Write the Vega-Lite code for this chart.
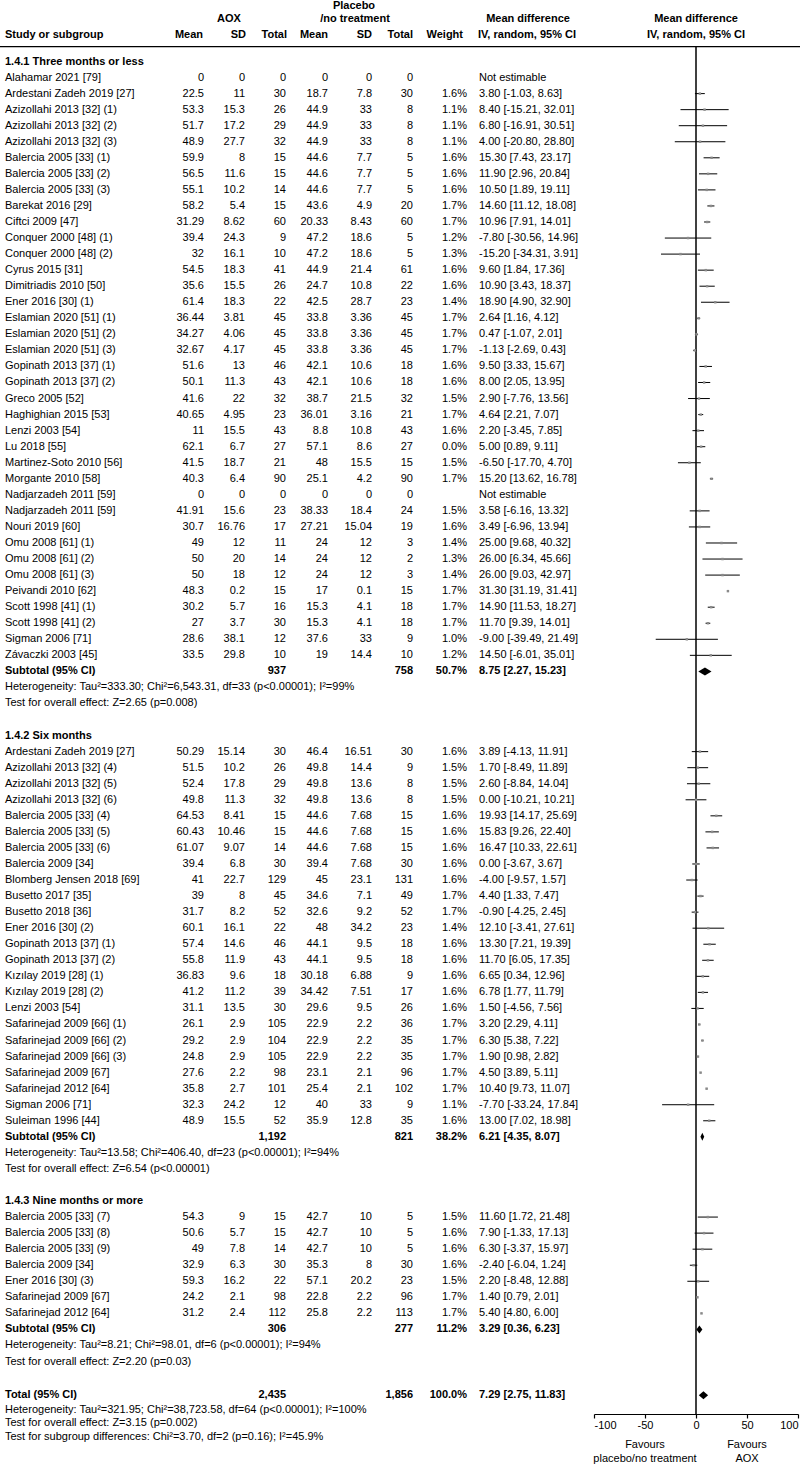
{
  "$schema": "https://vega.github.io/schema/vega-lite/v6.json",
  "width": 800,
  "height": 1414,
  "autosize": {"type": "none"},
  "padding": {"left": 0, "top": 0, "right": 0, "bottom": 52},
  "background": "white",
  "config": {
    "view": {"stroke": null},
    "text": {"font": "Liberation Sans", "fontSize": 11, "color": "black", "baseline": "middle"},
    "axis": {"labelFont": "Liberation Sans", "labelFontSize": 11, "labelColor": "black", "domainColor": "black", "tickColor": "black", "grid": false}
  },
  "datasets": {
    "studies": [
      {"row": 1, "study": "Alahamar 2021 [79]", "m1": 0, "sd1": 0, "n1": 0, "m2": 0, "sd2": 0, "n2": 0, "w": "", "ci": "Not estimable", "md": null, "lo": null, "hi": null},
      {"row": 2, "study": "Ardestani Zadeh 2019 [27]", "m1": 22.5, "sd1": 11, "n1": 30, "m2": 18.7, "sd2": 7.8, "n2": 30, "w": "1.6%", "ci": "3.80 [-1.03, 8.63]", "md": 3.8, "lo": -1.03, "hi": 8.63},
      {"row": 3, "study": "Azizollahi 2013 [32] (1)", "m1": 53.3, "sd1": 15.3, "n1": 26, "m2": 44.9, "sd2": 33, "n2": 8, "w": "1.1%", "ci": "8.40 [-15.21, 32.01]", "md": 8.4, "lo": -15.21, "hi": 32.01},
      {"row": 4, "study": "Azizollahi 2013 [32] (2)", "m1": 51.7, "sd1": 17.2, "n1": 29, "m2": 44.9, "sd2": 33, "n2": 8, "w": "1.1%", "ci": "6.80 [-16.91, 30.51]", "md": 6.8, "lo": -16.91, "hi": 30.51},
      {"row": 5, "study": "Azizollahi 2013 [32] (3)", "m1": 48.9, "sd1": 27.7, "n1": 32, "m2": 44.9, "sd2": 33, "n2": 8, "w": "1.1%", "ci": "4.00 [-20.80, 28.80]", "md": 4.0, "lo": -20.8, "hi": 28.8},
      {"row": 6, "study": "Balercia 2005 [33] (1)", "m1": 59.9, "sd1": 8, "n1": 15, "m2": 44.6, "sd2": 7.7, "n2": 5, "w": "1.6%", "ci": "15.30 [7.43, 23.17]", "md": 15.3, "lo": 7.43, "hi": 23.17},
      {"row": 7, "study": "Balercia 2005 [33] (2)", "m1": 56.5, "sd1": 11.6, "n1": 15, "m2": 44.6, "sd2": 7.7, "n2": 5, "w": "1.6%", "ci": "11.90 [2.96, 20.84]", "md": 11.9, "lo": 2.96, "hi": 20.84},
      {"row": 8, "study": "Balercia 2005 [33] (3)", "m1": 55.1, "sd1": 10.2, "n1": 14, "m2": 44.6, "sd2": 7.7, "n2": 5, "w": "1.6%", "ci": "10.50 [1.89, 19.11]", "md": 10.5, "lo": 1.89, "hi": 19.11},
      {"row": 9, "study": "Barekat 2016 [29]", "m1": 58.2, "sd1": 5.4, "n1": 15, "m2": 43.6, "sd2": 4.9, "n2": 20, "w": "1.7%", "ci": "14.60 [11.12, 18.08]", "md": 14.6, "lo": 11.12, "hi": 18.08},
      {"row": 10, "study": "Ciftci 2009 [47]", "m1": 31.29, "sd1": 8.62, "n1": 60, "m2": 20.33, "sd2": 8.43, "n2": 60, "w": "1.7%", "ci": "10.96 [7.91, 14.01]", "md": 10.96, "lo": 7.91, "hi": 14.01},
      {"row": 11, "study": "Conquer 2000 [48] (1)", "m1": 39.4, "sd1": 24.3, "n1": 9, "m2": 47.2, "sd2": 18.6, "n2": 5, "w": "1.2%", "ci": "-7.80 [-30.56, 14.96]", "md": -7.8, "lo": -30.56, "hi": 14.96},
      {"row": 12, "study": "Conquer 2000 [48] (2)", "m1": 32, "sd1": 16.1, "n1": 10, "m2": 47.2, "sd2": 18.6, "n2": 5, "w": "1.3%", "ci": "-15.20 [-34.31, 3.91]", "md": -15.2, "lo": -34.31, "hi": 3.91},
      {"row": 13, "study": "Cyrus 2015 [31]", "m1": 54.5, "sd1": 18.3, "n1": 41, "m2": 44.9, "sd2": 21.4, "n2": 61, "w": "1.6%", "ci": "9.60 [1.84, 17.36]", "md": 9.6, "lo": 1.84, "hi": 17.36},
      {"row": 14, "study": "Dimitriadis 2010 [50]", "m1": 35.6, "sd1": 15.5, "n1": 26, "m2": 24.7, "sd2": 10.8, "n2": 22, "w": "1.6%", "ci": "10.90 [3.43, 18.37]", "md": 10.9, "lo": 3.43, "hi": 18.37},
      {"row": 15, "study": "Ener 2016 [30] (1)", "m1": 61.4, "sd1": 18.3, "n1": 22, "m2": 42.5, "sd2": 28.7, "n2": 23, "w": "1.4%", "ci": "18.90 [4.90, 32.90]", "md": 18.9, "lo": 4.9, "hi": 32.9},
      {"row": 16, "study": "Eslamian 2020 [51] (1)", "m1": 36.44, "sd1": 3.81, "n1": 45, "m2": 33.8, "sd2": 3.36, "n2": 45, "w": "1.7%", "ci": "2.64 [1.16, 4.12]", "md": 2.64, "lo": 1.16, "hi": 4.12},
      {"row": 17, "study": "Eslamian 2020 [51] (2)", "m1": 34.27, "sd1": 4.06, "n1": 45, "m2": 33.8, "sd2": 3.36, "n2": 45, "w": "1.7%", "ci": "0.47 [-1.07, 2.01]", "md": 0.47, "lo": -1.07, "hi": 2.01},
      {"row": 18, "study": "Eslamian 2020 [51] (3)", "m1": 32.67, "sd1": 4.17, "n1": 45, "m2": 33.8, "sd2": 3.36, "n2": 45, "w": "1.7%", "ci": "-1.13 [-2.69, 0.43]", "md": -1.13, "lo": -2.69, "hi": 0.43},
      {"row": 19, "study": "Gopinath 2013 [37] (1)", "m1": 51.6, "sd1": 13, "n1": 46, "m2": 42.1, "sd2": 10.6, "n2": 18, "w": "1.6%", "ci": "9.50 [3.33, 15.67]", "md": 9.5, "lo": 3.33, "hi": 15.67},
      {"row": 20, "study": "Gopinath 2013 [37] (2)", "m1": 50.1, "sd1": 11.3, "n1": 43, "m2": 42.1, "sd2": 10.6, "n2": 18, "w": "1.6%", "ci": "8.00 [2.05, 13.95]", "md": 8.0, "lo": 2.05, "hi": 13.95},
      {"row": 21, "study": "Greco 2005 [52]", "m1": 41.6, "sd1": 22, "n1": 32, "m2": 38.7, "sd2": 21.5, "n2": 32, "w": "1.5%", "ci": "2.90 [-7.76, 13.56]", "md": 2.9, "lo": -7.76, "hi": 13.56},
      {"row": 22, "study": "Haghighian 2015 [53]", "m1": 40.65, "sd1": 4.95, "n1": 23, "m2": 36.01, "sd2": 3.16, "n2": 21, "w": "1.7%", "ci": "4.64 [2.21, 7.07]", "md": 4.64, "lo": 2.21, "hi": 7.07},
      {"row": 23, "study": "Lenzi 2003 [54]", "m1": 11, "sd1": 15.5, "n1": 43, "m2": 8.8, "sd2": 10.8, "n2": 43, "w": "1.6%", "ci": "2.20 [-3.45, 7.85]", "md": 2.2, "lo": -3.45, "hi": 7.85},
      {"row": 24, "study": "Lu 2018 [55]", "m1": 62.1, "sd1": 6.7, "n1": 27, "m2": 57.1, "sd2": 8.6, "n2": 27, "w": "0.0%", "ci": "5.00 [0.89, 9.11]", "md": 5.0, "lo": 0.89, "hi": 9.11},
      {"row": 25, "study": "Martinez-Soto 2010 [56]", "m1": 41.5, "sd1": 18.7, "n1": 21, "m2": 48, "sd2": 15.5, "n2": 15, "w": "1.5%", "ci": "-6.50 [-17.70, 4.70]", "md": -6.5, "lo": -17.7, "hi": 4.7},
      {"row": 26, "study": "Morgante 2010 [58]", "m1": 40.3, "sd1": 6.4, "n1": 90, "m2": 25.1, "sd2": 4.2, "n2": 90, "w": "1.7%", "ci": "15.20 [13.62, 16.78]", "md": 15.2, "lo": 13.62, "hi": 16.78},
      {"row": 27, "study": "Nadjarzadeh 2011 [59]", "m1": 0, "sd1": 0, "n1": 0, "m2": 0, "sd2": 0, "n2": 0, "w": "", "ci": "Not estimable", "md": null, "lo": null, "hi": null},
      {"row": 28, "study": "Nadjarzadeh 2011 [59]", "m1": 41.91, "sd1": 15.6, "n1": 23, "m2": 38.33, "sd2": 18.4, "n2": 24, "w": "1.5%", "ci": "3.58 [-6.16, 13.32]", "md": 3.58, "lo": -6.16, "hi": 13.32},
      {"row": 29, "study": "Nouri 2019 [60]", "m1": 30.7, "sd1": 16.76, "n1": 17, "m2": 27.21, "sd2": 15.04, "n2": 19, "w": "1.6%", "ci": "3.49 [-6.96, 13.94]", "md": 3.49, "lo": -6.96, "hi": 13.94},
      {"row": 30, "study": "Omu 2008 [61] (1)", "m1": 49, "sd1": 12, "n1": 11, "m2": 24, "sd2": 12, "n2": 3, "w": "1.4%", "ci": "25.00 [9.68, 40.32]", "md": 25.0, "lo": 9.68, "hi": 40.32},
      {"row": 31, "study": "Omu 2008 [61] (2)", "m1": 50, "sd1": 20, "n1": 14, "m2": 24, "sd2": 12, "n2": 2, "w": "1.3%", "ci": "26.00 [6.34, 45.66]", "md": 26.0, "lo": 6.34, "hi": 45.66},
      {"row": 32, "study": "Omu 2008 [61] (3)", "m1": 50, "sd1": 18, "n1": 12, "m2": 24, "sd2": 12, "n2": 3, "w": "1.4%", "ci": "26.00 [9.03, 42.97]", "md": 26.0, "lo": 9.03, "hi": 42.97},
      {"row": 33, "study": "Peivandi 2010 [62]", "m1": 48.3, "sd1": 0.2, "n1": 15, "m2": 17, "sd2": 0.1, "n2": 15, "w": "1.7%", "ci": "31.30 [31.19, 31.41]", "md": 31.3, "lo": 31.19, "hi": 31.41},
      {"row": 34, "study": "Scott 1998 [41] (1)", "m1": 30.2, "sd1": 5.7, "n1": 16, "m2": 15.3, "sd2": 4.1, "n2": 18, "w": "1.7%", "ci": "14.90 [11.53, 18.27]", "md": 14.9, "lo": 11.53, "hi": 18.27},
      {"row": 35, "study": "Scott 1998 [41] (2)", "m1": 27, "sd1": 3.7, "n1": 30, "m2": 15.3, "sd2": 4.1, "n2": 18, "w": "1.7%", "ci": "11.70 [9.39, 14.01]", "md": 11.7, "lo": 9.39, "hi": 14.01},
      {"row": 36, "study": "Sigman 2006 [71]", "m1": 28.6, "sd1": 38.1, "n1": 12, "m2": 37.6, "sd2": 33, "n2": 9, "w": "1.0%", "ci": "-9.00 [-39.49, 21.49]", "md": -9.0, "lo": -39.49, "hi": 21.49},
      {"row": 37, "study": "Závaczki 2003 [45]", "m1": 33.5, "sd1": 29.8, "n1": 10, "m2": 19, "sd2": 14.4, "n2": 10, "w": "1.2%", "ci": "14.50 [-6.01, 35.01]", "md": 14.5, "lo": -6.01, "hi": 35.01},
      {"row": 43, "study": "Ardestani Zadeh 2019 [27]", "m1": 50.29, "sd1": 15.14, "n1": 30, "m2": 46.4, "sd2": 16.51, "n2": 30, "w": "1.6%", "ci": "3.89 [-4.13, 11.91]", "md": 3.89, "lo": -4.13, "hi": 11.91},
      {"row": 44, "study": "Azizollahi 2013 [32] (4)", "m1": 51.5, "sd1": 10.2, "n1": 26, "m2": 49.8, "sd2": 14.4, "n2": 9, "w": "1.5%", "ci": "1.70 [-8.49, 11.89]", "md": 1.7, "lo": -8.49, "hi": 11.89},
      {"row": 45, "study": "Azizollahi 2013 [32] (5)", "m1": 52.4, "sd1": 17.8, "n1": 29, "m2": 49.8, "sd2": 13.6, "n2": 8, "w": "1.5%", "ci": "2.60 [-8.84, 14.04]", "md": 2.6, "lo": -8.84, "hi": 14.04},
      {"row": 46, "study": "Azizollahi 2013 [32] (6)", "m1": 49.8, "sd1": 11.3, "n1": 32, "m2": 49.8, "sd2": 13.6, "n2": 8, "w": "1.5%", "ci": "0.00 [-10.21, 10.21]", "md": 0.0, "lo": -10.21, "hi": 10.21},
      {"row": 47, "study": "Balercia 2005 [33] (4)", "m1": 64.53, "sd1": 8.41, "n1": 15, "m2": 44.6, "sd2": 7.68, "n2": 15, "w": "1.6%", "ci": "19.93 [14.17, 25.69]", "md": 19.93, "lo": 14.17, "hi": 25.69},
      {"row": 48, "study": "Balercia 2005 [33] (5)", "m1": 60.43, "sd1": 10.46, "n1": 15, "m2": 44.6, "sd2": 7.68, "n2": 15, "w": "1.6%", "ci": "15.83 [9.26, 22.40]", "md": 15.83, "lo": 9.26, "hi": 22.4},
      {"row": 49, "study": "Balercia 2005 [33] (6)", "m1": 61.07, "sd1": 9.07, "n1": 14, "m2": 44.6, "sd2": 7.68, "n2": 15, "w": "1.6%", "ci": "16.47 [10.33, 22.61]", "md": 16.47, "lo": 10.33, "hi": 22.61},
      {"row": 50, "study": "Balercia 2009 [34]", "m1": 39.4, "sd1": 6.8, "n1": 30, "m2": 39.4, "sd2": 7.68, "n2": 30, "w": "1.6%", "ci": "0.00 [-3.67, 3.67]", "md": 0.0, "lo": -3.67, "hi": 3.67},
      {"row": 51, "study": "Blomberg Jensen 2018 [69]", "m1": 41, "sd1": 22.7, "n1": 129, "m2": 45, "sd2": 23.1, "n2": 131, "w": "1.6%", "ci": "-4.00 [-9.57, 1.57]", "md": -4.0, "lo": -9.57, "hi": 1.57},
      {"row": 52, "study": "Busetto 2017 [35]", "m1": 39, "sd1": 8, "n1": 45, "m2": 34.6, "sd2": 7.1, "n2": 49, "w": "1.7%", "ci": "4.40 [1.33, 7.47]", "md": 4.4, "lo": 1.33, "hi": 7.47},
      {"row": 53, "study": "Busetto 2018 [36]", "m1": 31.7, "sd1": 8.2, "n1": 52, "m2": 32.6, "sd2": 9.2, "n2": 52, "w": "1.7%", "ci": "-0.90 [-4.25, 2.45]", "md": -0.9, "lo": -4.25, "hi": 2.45},
      {"row": 54, "study": "Ener 2016 [30] (2)", "m1": 60.1, "sd1": 16.1, "n1": 22, "m2": 48, "sd2": 34.2, "n2": 23, "w": "1.4%", "ci": "12.10 [-3.41, 27.61]", "md": 12.1, "lo": -3.41, "hi": 27.61},
      {"row": 55, "study": "Gopinath 2013 [37] (1)", "m1": 57.4, "sd1": 14.6, "n1": 46, "m2": 44.1, "sd2": 9.5, "n2": 18, "w": "1.6%", "ci": "13.30 [7.21, 19.39]", "md": 13.3, "lo": 7.21, "hi": 19.39},
      {"row": 56, "study": "Gopinath 2013 [37] (2)", "m1": 55.8, "sd1": 11.9, "n1": 43, "m2": 44.1, "sd2": 9.5, "n2": 18, "w": "1.6%", "ci": "11.70 [6.05, 17.35]", "md": 11.7, "lo": 6.05, "hi": 17.35},
      {"row": 57, "study": "Kızılay 2019 [28] (1)", "m1": 36.83, "sd1": 9.6, "n1": 18, "m2": 30.18, "sd2": 6.88, "n2": 9, "w": "1.6%", "ci": "6.65 [0.34, 12.96]", "md": 6.65, "lo": 0.34, "hi": 12.96},
      {"row": 58, "study": "Kızılay 2019 [28] (2)", "m1": 41.2, "sd1": 11.2, "n1": 39, "m2": 34.42, "sd2": 7.51, "n2": 17, "w": "1.6%", "ci": "6.78 [1.77, 11.79]", "md": 6.78, "lo": 1.77, "hi": 11.79},
      {"row": 59, "study": "Lenzi 2003 [54]", "m1": 31.1, "sd1": 13.5, "n1": 30, "m2": 29.6, "sd2": 9.5, "n2": 26, "w": "1.6%", "ci": "1.50 [-4.56, 7.56]", "md": 1.5, "lo": -4.56, "hi": 7.56},
      {"row": 60, "study": "Safarinejad 2009 [66] (1)", "m1": 26.1, "sd1": 2.9, "n1": 105, "m2": 22.9, "sd2": 2.2, "n2": 36, "w": "1.7%", "ci": "3.20 [2.29, 4.11]", "md": 3.2, "lo": 2.29, "hi": 4.11},
      {"row": 61, "study": "Safarinejad 2009 [66] (2)", "m1": 29.2, "sd1": 2.9, "n1": 104, "m2": 22.9, "sd2": 2.2, "n2": 35, "w": "1.7%", "ci": "6.30 [5.38, 7.22]", "md": 6.3, "lo": 5.38, "hi": 7.22},
      {"row": 62, "study": "Safarinejad 2009 [66] (3)", "m1": 24.8, "sd1": 2.9, "n1": 105, "m2": 22.9, "sd2": 2.2, "n2": 35, "w": "1.7%", "ci": "1.90 [0.98, 2.82]", "md": 1.9, "lo": 0.98, "hi": 2.82},
      {"row": 63, "study": "Safarinejad 2009 [67]", "m1": 27.6, "sd1": 2.2, "n1": 98, "m2": 23.1, "sd2": 2.1, "n2": 96, "w": "1.7%", "ci": "4.50 [3.89, 5.11]", "md": 4.5, "lo": 3.89, "hi": 5.11},
      {"row": 64, "study": "Safarinejad 2012 [64]", "m1": 35.8, "sd1": 2.7, "n1": 101, "m2": 25.4, "sd2": 2.1, "n2": 102, "w": "1.7%", "ci": "10.40 [9.73, 11.07]", "md": 10.4, "lo": 9.73, "hi": 11.07},
      {"row": 65, "study": "Sigman 2006 [71]", "m1": 32.3, "sd1": 24.2, "n1": 12, "m2": 40, "sd2": 33, "n2": 9, "w": "1.1%", "ci": "-7.70 [-33.24, 17.84]", "md": -7.7, "lo": -33.24, "hi": 17.84},
      {"row": 66, "study": "Suleiman 1996 [44]", "m1": 48.9, "sd1": 15.5, "n1": 52, "m2": 35.9, "sd2": 12.8, "n2": 35, "w": "1.6%", "ci": "13.00 [7.02, 18.98]", "md": 13.0, "lo": 7.02, "hi": 18.98},
      {"row": 72, "study": "Balercia 2005 [33] (7)", "m1": 54.3, "sd1": 9, "n1": 15, "m2": 42.7, "sd2": 10, "n2": 5, "w": "1.5%", "ci": "11.60 [1.72, 21.48]", "md": 11.6, "lo": 1.72, "hi": 21.48},
      {"row": 73, "study": "Balercia 2005 [33] (8)", "m1": 50.6, "sd1": 5.7, "n1": 15, "m2": 42.7, "sd2": 10, "n2": 5, "w": "1.6%", "ci": "7.90 [-1.33, 17.13]", "md": 7.9, "lo": -1.33, "hi": 17.13},
      {"row": 74, "study": "Balercia 2005 [33] (9)", "m1": 49, "sd1": 7.8, "n1": 14, "m2": 42.7, "sd2": 10, "n2": 5, "w": "1.6%", "ci": "6.30 [-3.37, 15.97]", "md": 6.3, "lo": -3.37, "hi": 15.97},
      {"row": 75, "study": "Balercia 2009 [34]", "m1": 32.9, "sd1": 6.3, "n1": 30, "m2": 35.3, "sd2": 8, "n2": 30, "w": "1.6%", "ci": "-2.40 [-6.04, 1.24]", "md": -2.4, "lo": -6.04, "hi": 1.24},
      {"row": 76, "study": "Ener 2016 [30] (3)", "m1": 59.3, "sd1": 16.2, "n1": 22, "m2": 57.1, "sd2": 20.2, "n2": 23, "w": "1.5%", "ci": "2.20 [-8.48, 12.88]", "md": 2.2, "lo": -8.48, "hi": 12.88},
      {"row": 77, "study": "Safarinejad 2009 [67]", "m1": 24.2, "sd1": 2.1, "n1": 98, "m2": 22.8, "sd2": 2.2, "n2": 96, "w": "1.7%", "ci": "1.40 [0.79, 2.01]", "md": 1.4, "lo": 0.79, "hi": 2.01},
      {"row": 78, "study": "Safarinejad 2012 [64]", "m1": 31.2, "sd1": 2.4, "n1": 112, "m2": 25.8, "sd2": 2.2, "n2": 113, "w": "1.7%", "ci": "5.40 [4.80, 6.00]", "md": 5.4, "lo": 4.8, "hi": 6.0}
    ],
    "summ": [
      {"row": 38, "label": "Subtotal (95% CI)", "n1": "937", "n2": "758", "w": "50.7%", "ci": "8.75 [2.27, 15.23]", "md": 8.75, "lo": 2.27, "hi": 15.23, "g": "s1"},
      {"row": 67, "label": "Subtotal (95% CI)", "n1": "1,192", "n2": "821", "w": "38.2%", "ci": "6.21 [4.35, 8.07]", "md": 6.21, "lo": 4.35, "hi": 8.07, "g": "s2"},
      {"row": 79, "label": "Subtotal (95% CI)", "n1": "306", "n2": "277", "w": "11.2%", "ci": "3.29 [0.36, 6.23]", "md": 3.29, "lo": 0.36, "hi": 6.23, "g": "s3"},
      {"row": 83.1, "label": "Total (95% CI)", "n1": "2,435", "n2": "1,856", "w": "100.0%", "ci": "7.29 [2.75, 11.83]", "md": 7.29, "lo": 2.75, "hi": 11.83, "g": "t"}
    ],
    "sections": [
      {"row": 0, "text": "1.4.1 Three months or less"},
      {"row": 42, "text": "1.4.2 Six months"},
      {"row": 71, "text": "1.4.3 Nine months or more"}
    ],
    "notes": [
      {"row": 39, "text": "Heterogeneity: Tau²=333.30; Chi²=6,543.31, df=33 (p<0.00001); I²=99%"},
      {"row": 40, "text": "Test for overall effect: Z=2.65 (p=0.008)"},
      {"row": 68, "text": "Heterogeneity: Tau²=13.58; Chi²=406.40, df=23 (p<0.00001); I²=94%"},
      {"row": 69, "text": "Test for overall effect: Z=6.54 (p<0.00001)"},
      {"row": 80, "text": "Heterogeneity: Tau²=8.21; Chi²=98.01, df=6 (p<0.00001); I²=94%"},
      {"row": 81, "text": "Test for overall effect: Z=2.20 (p=0.03)"},
      {"row": 84, "text": "Heterogeneity: Tau²=321.95; Chi²=38,723.58, df=64 (p<0.00001); I²=100%"},
      {"row": 84.85, "text": "Test for overall effect: Z=3.15 (p=0.002)"},
      {"row": 85.7, "text": "Test for subgroup differences: Chi²=3.70, df=2 (p=0.16); I²=45.9%"}
    ]
  },
  "layer": [
    {
      "data": {"values": [{}]},
      "mark": {"type": "rule", "color": "black", "strokeWidth": 1.2},
      "encoding": {
        "x": {"value": 0}, "x2": {"value": 800},
        "y": {"datum": -0.922, "type": "quantitative", "scale": {"domain": [-3.832, 84.27], "reverse": true, "zero": false, "nice": false}, "axis": null}
      }
    },
    {
      "data": {"values": [{}]},
      "mark": {"type": "rule", "color": "black", "strokeWidth": 1.5},
      "encoding": {
        "x": {"datum": 0, "type": "quantitative"},
        "y": {"datum": -0.922, "type": "quantitative"},
        "y2": {"datum": 84.27}
      }
    },
    {
      "data": {"name": "studies"},
      "transform": [{"filter": "isValid(datum.md)"}],
      "mark": {"type": "rule", "color": "black", "strokeWidth": 1},
      "encoding": {
        "x": {"field": "lo", "type": "quantitative", "scale": {"domain": [-100, 100], "range": [594, 798], "zero": false, "nice": false},
              "axis": {"values": [-100, -50, 0, 50, 100], "title": null, "tickSize": 4, "labelPadding": 1, "labelExpr": "'' + datum.value", "labelFlush": true, "labelFlushOffset": 0, "domainWidth": 1.2, "tickWidth": 1.2}},
        "x2": {"field": "hi"},
        "y": {"field": "row", "type": "quantitative"}
      }
    },
    {
      "data": {"name": "studies"},
      "transform": [{"filter": "isValid(datum.md)"}],
      "mark": {"type": "point", "shape": "square", "filled": true, "size": 6, "color": "#8a8a8a", "opacity": 1},
      "encoding": {
        "x": {"field": "md", "type": "quantitative"},
        "y": {"field": "row", "type": "quantitative"}
      }
    },
    {
      "data": {"name": "summ"},
      "mark": {"type": "point", "filled": true, "size": 64, "color": "black", "opacity": 1},
      "encoding": {
        "x": {"field": "md", "type": "quantitative"},
        "y": {"field": "row", "type": "quantitative"},
        "shape": {"field": "g", "type": "nominal", "legend": null,
                  "scale": {"domain": ["s1", "s2", "s3", "t"], "range": ["M-1.65,0L0,-1L1.65,0L0,1Z", "M-0.47,0L0,-1L0.47,0L0,1Z", "M-0.75,0L0,-1L0.75,0L0,1Z", "M-1.16,0L0,-1L1.16,0L0,1Z"]}}
      }
    },
    {"data": {"name": "studies"}, "mark": {"type": "text", "align": "left"}, "encoding": {"x": {"value": 5}, "y": {"field": "row", "type": "quantitative"}, "text": {"field": "study", "type": "nominal"}}},
    {"data": {"name": "studies"}, "mark": {"type": "text", "align": "right"}, "encoding": {"x": {"value": 204}, "y": {"field": "row", "type": "quantitative"}, "text": {"field": "m1", "type": "nominal"}}},
    {"data": {"name": "studies"}, "mark": {"type": "text", "align": "right"}, "encoding": {"x": {"value": 245}, "y": {"field": "row", "type": "quantitative"}, "text": {"field": "sd1", "type": "nominal"}}},
    {"data": {"name": "studies"}, "mark": {"type": "text", "align": "right"}, "encoding": {"x": {"value": 286}, "y": {"field": "row", "type": "quantitative"}, "text": {"field": "n1", "type": "nominal"}}},
    {"data": {"name": "studies"}, "mark": {"type": "text", "align": "right"}, "encoding": {"x": {"value": 328}, "y": {"field": "row", "type": "quantitative"}, "text": {"field": "m2", "type": "nominal"}}},
    {"data": {"name": "studies"}, "mark": {"type": "text", "align": "right"}, "encoding": {"x": {"value": 372}, "y": {"field": "row", "type": "quantitative"}, "text": {"field": "sd2", "type": "nominal"}}},
    {"data": {"name": "studies"}, "mark": {"type": "text", "align": "right"}, "encoding": {"x": {"value": 413}, "y": {"field": "row", "type": "quantitative"}, "text": {"field": "n2", "type": "nominal"}}},
    {"data": {"name": "studies"}, "mark": {"type": "text", "align": "right"}, "encoding": {"x": {"value": 467}, "y": {"field": "row", "type": "quantitative"}, "text": {"field": "w", "type": "nominal"}}},
    {"data": {"name": "studies"}, "mark": {"type": "text", "align": "left"}, "encoding": {"x": {"value": 479}, "y": {"field": "row", "type": "quantitative"}, "text": {"field": "ci", "type": "nominal"}}},
    {"data": {"name": "summ"}, "mark": {"type": "text", "align": "left", "fontWeight": "bold"}, "encoding": {"x": {"value": 5}, "y": {"field": "row", "type": "quantitative"}, "text": {"field": "label", "type": "nominal"}}},
    {"data": {"name": "summ"}, "mark": {"type": "text", "align": "right", "fontWeight": "bold"}, "encoding": {"x": {"value": 286}, "y": {"field": "row", "type": "quantitative"}, "text": {"field": "n1", "type": "nominal"}}},
    {"data": {"name": "summ"}, "mark": {"type": "text", "align": "right", "fontWeight": "bold"}, "encoding": {"x": {"value": 413}, "y": {"field": "row", "type": "quantitative"}, "text": {"field": "n2", "type": "nominal"}}},
    {"data": {"name": "summ"}, "mark": {"type": "text", "align": "right", "fontWeight": "bold"}, "encoding": {"x": {"value": 467}, "y": {"field": "row", "type": "quantitative"}, "text": {"field": "w", "type": "nominal"}}},
    {"data": {"name": "summ"}, "mark": {"type": "text", "align": "left", "fontWeight": "bold"}, "encoding": {"x": {"value": 479}, "y": {"field": "row", "type": "quantitative"}, "text": {"field": "ci", "type": "nominal"}}},
    {"data": {"name": "sections"}, "mark": {"type": "text", "align": "left", "fontWeight": "bold"}, "encoding": {"x": {"value": 5}, "y": {"field": "row", "type": "quantitative"}, "text": {"field": "text", "type": "nominal"}}},
    {"data": {"name": "notes"}, "mark": {"type": "text", "align": "left"}, "encoding": {"x": {"value": 5}, "y": {"field": "row", "type": "quantitative"}, "text": {"field": "text", "type": "nominal"}}},
    {"data": {"values": [{}]}, "mark": {"type": "text", "align": "center", "fontWeight": "bold"}, "encoding": {"x": {"value": 354}, "y": {"datum": -3.46, "type": "quantitative"}, "text": {"value": "Placebo"}}},
    {"data": {"values": [{}]}, "mark": {"type": "text", "align": "center", "fontWeight": "bold"}, "encoding": {"x": {"value": 229}, "y": {"datum": -2.66, "type": "quantitative"}, "text": {"value": "AOX"}}},
    {"data": {"values": [{}]}, "mark": {"type": "text", "align": "center", "fontWeight": "bold"}, "encoding": {"x": {"value": 355}, "y": {"datum": -2.66, "type": "quantitative"}, "text": {"value": "/no treatment"}}},
    {"data": {"values": [{}]}, "mark": {"type": "text", "align": "center", "fontWeight": "bold"}, "encoding": {"x": {"value": 528}, "y": {"datum": -2.66, "type": "quantitative"}, "text": {"value": "Mean difference"}}},
    {"data": {"values": [{}]}, "mark": {"type": "text", "align": "center", "fontWeight": "bold"}, "encoding": {"x": {"value": 696}, "y": {"datum": -2.66, "type": "quantitative"}, "text": {"value": "Mean difference"}}},
    {"data": {"values": [{}]}, "mark": {"type": "text", "align": "left", "fontWeight": "bold"}, "encoding": {"x": {"value": 5}, "y": {"datum": -1.65, "type": "quantitative"}, "text": {"value": "Study or subgroup"}}},
    {"data": {"values": [{}]}, "mark": {"type": "text", "align": "right", "fontWeight": "bold"}, "encoding": {"x": {"value": 203}, "y": {"datum": -1.65, "type": "quantitative"}, "text": {"value": "Mean"}}},
    {"data": {"values": [{}]}, "mark": {"type": "text", "align": "right", "fontWeight": "bold"}, "encoding": {"x": {"value": 246}, "y": {"datum": -1.65, "type": "quantitative"}, "text": {"value": "SD"}}},
    {"data": {"values": [{}]}, "mark": {"type": "text", "align": "right", "fontWeight": "bold"}, "encoding": {"x": {"value": 287}, "y": {"datum": -1.65, "type": "quantitative"}, "text": {"value": "Total"}}},
    {"data": {"values": [{}]}, "mark": {"type": "text", "align": "right", "fontWeight": "bold"}, "encoding": {"x": {"value": 328}, "y": {"datum": -1.65, "type": "quantitative"}, "text": {"value": "Mean"}}},
    {"data": {"values": [{}]}, "mark": {"type": "text", "align": "right", "fontWeight": "bold"}, "encoding": {"x": {"value": 372}, "y": {"datum": -1.65, "type": "quantitative"}, "text": {"value": "SD"}}},
    {"data": {"values": [{}]}, "mark": {"type": "text", "align": "right", "fontWeight": "bold"}, "encoding": {"x": {"value": 413}, "y": {"datum": -1.65, "type": "quantitative"}, "text": {"value": "Total"}}},
    {"data": {"values": [{}]}, "mark": {"type": "text", "align": "right", "fontWeight": "bold"}, "encoding": {"x": {"value": 463}, "y": {"datum": -1.65, "type": "quantitative"}, "text": {"value": "Weight"}}},
    {"data": {"values": [{}]}, "mark": {"type": "text", "align": "center", "fontWeight": "bold"}, "encoding": {"x": {"value": 527}, "y": {"datum": -1.65, "type": "quantitative"}, "text": {"value": "IV, random, 95% CI"}}},
    {"data": {"values": [{}]}, "mark": {"type": "text", "align": "center", "fontWeight": "bold"}, "encoding": {"x": {"value": 696}, "y": {"datum": -1.65, "type": "quantitative"}, "text": {"value": "IV, random, 95% CI"}}},
    {"data": {"values": [{}]}, "mark": {"type": "text", "align": "center", "baseline": "top", "lineHeight": 14}, "encoding": {"x": {"datum": -50, "type": "quantitative"}, "y": {"datum": 85.83, "type": "quantitative"}, "text": {"value": ["Favours", "placebo/no treatment"]}}},
    {"data": {"values": [{}]}, "mark": {"type": "text", "align": "center", "baseline": "top", "lineHeight": 14}, "encoding": {"x": {"datum": 50, "type": "quantitative"}, "y": {"datum": 85.83, "type": "quantitative"}, "text": {"value": ["Favours", "AOX"]}}}
  ]
}
